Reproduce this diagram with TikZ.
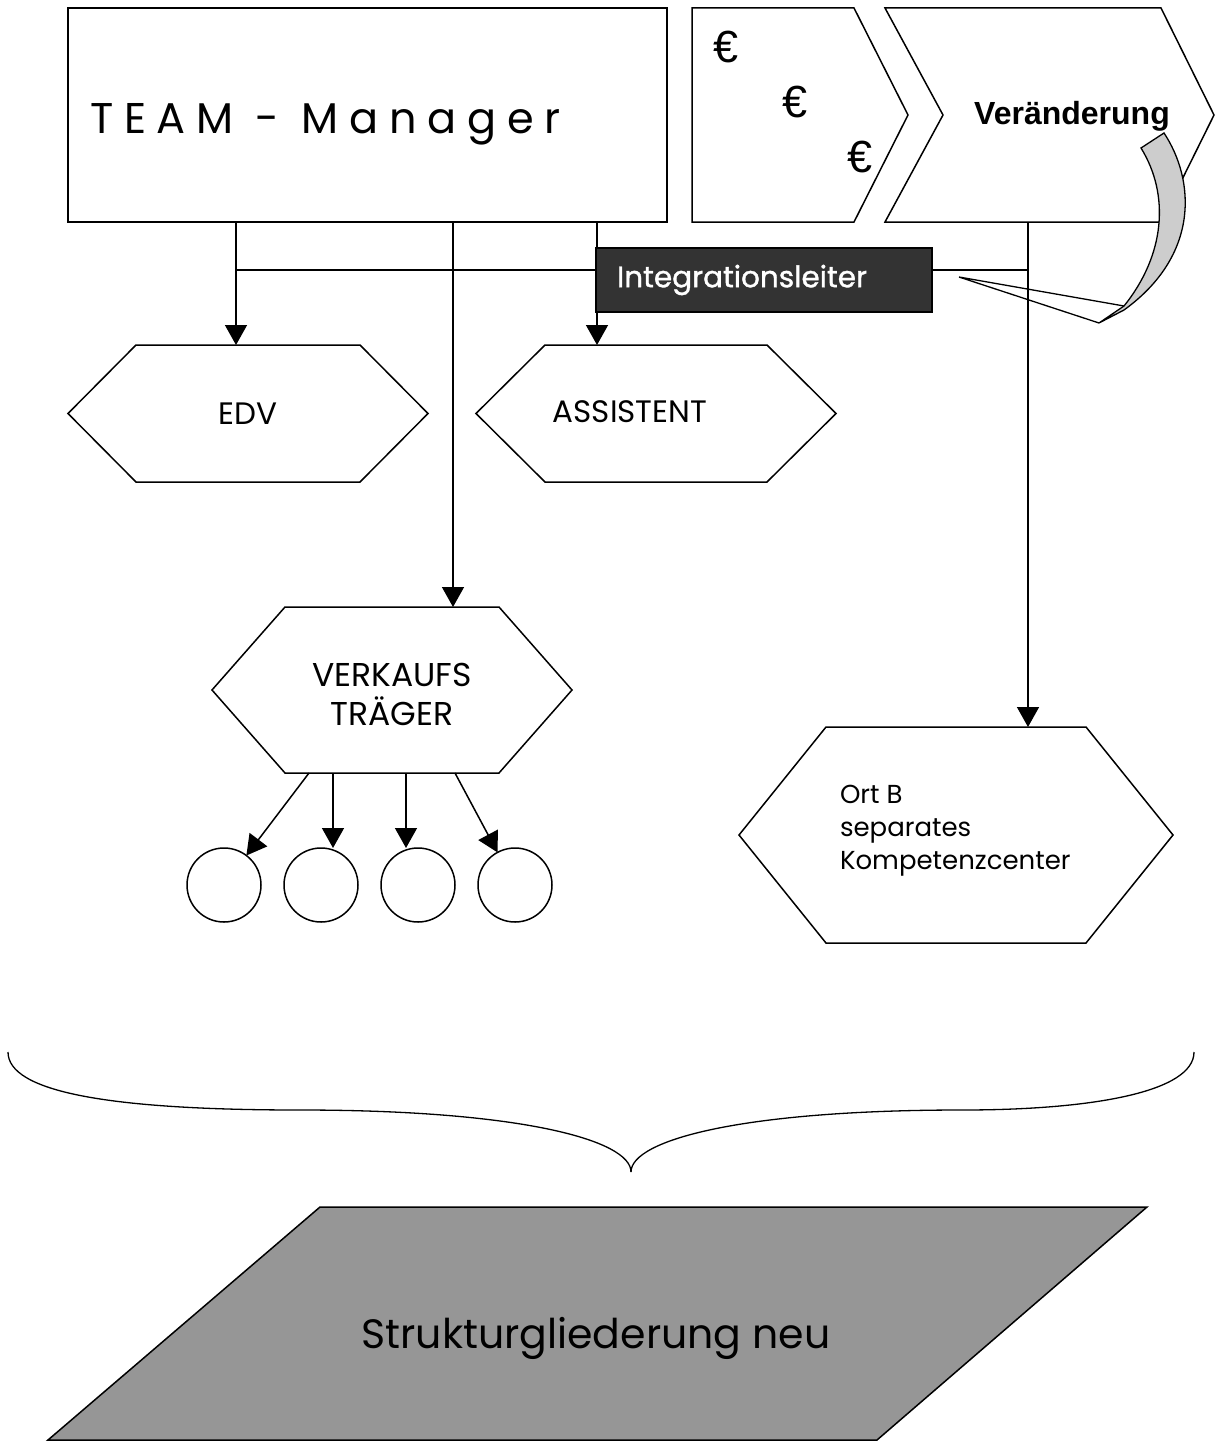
\documentclass[tikz,border=0pt]{standalone}
\usepackage{fontspec}
\setmainfont{Poppins}
\newfontfamily\arialfont{Liberation Sans}
\newfontfamily\semiboldfont[FakeBold=1.2]{Poppins}
\usetikzlibrary{arrows.meta,calc}
\definecolor{darkbox}{RGB}{51,51,51}
\definecolor{ribbongray}{RGB}{205,205,205}
\definecolor{paragray}{RGB}{150,150,150}
\newcommand\fs[2]{\fontsize{#1}{#2}\selectfont}
\newcommand\hexshape[2]{\draw[frame] (#1.west) -- ([xshift=#2]#1.north west) -- ([xshift=-#2]#1.north east) -- (#1.east) -- ([xshift=-#2]#1.south east) -- ([xshift=#2]#1.south west) -- cycle;}
\begin{document}
\begin{tikzpicture}[x=1pt,y=-1pt,
  every node/.style={inner sep=0pt,outer sep=0pt},
  frame/.style={draw=black,line width=1.5pt,line join=miter},
  conn/.style={draw=black,line width=1.5pt},
  arr/.style={conn,-{Triangle[length=20pt,width=22pt]}},
  hexlabel/.style={font=\fs{31}{37}},
]
\useasboundingbox (0,0) rectangle (1215,1445);

% ---------- top: TEAM Manager box
\node[frame,minimum width=599pt,minimum height=214pt] (tm) at (367.5,115) {};
\node[anchor=base west,font=\fs{43}{50}\addfontfeature{LetterSpace=25}] (tmt) at (90,133) {TEAM - Manager};

% ---------- chevrons
\draw[frame] (692,8) -- (854,8) -- (908,115) -- (854,222) -- (692,222) -- cycle;
\node[font=\arialfont\fs{45}{50}] (eu1) at (726,47) {€};
\node[font=\arialfont\fs{45}{50}] (eu2) at (795,102) {€};
\node[font=\arialfont\fs{45}{50}] (eu3) at (860,157) {€};

\draw[frame] (885,8) -- (1161,8) -- (1214,115) -- (1161,222) -- (885,222) -- (943,115) -- cycle;
\node[font=\arialfont\bfseries\fs{32}{38}] (ver) at (1072,116) {Veränderung};

% ---------- hexagons
\node[minimum width=360pt,minimum height=137pt,hexlabel] (edv) at (248,413.5) {EDV};
\hexshape{edv}{68pt}
\node[minimum width=360pt,minimum height=137pt] (as) at (656,413.5) {};
\hexshape{as}{69pt}
\node[hexlabel] (ast) at (630,412) {ASSISTENT};

\node[minimum width=360pt,minimum height=166pt] (vk) at (392,690) {};
\hexshape{vk}{73pt}
\node[anchor=north,align=center,font=\fs{33}{39}] (vkt) at (392,663) {VERKAUFS\\TRÄGER};

\node[minimum width=434pt,minimum height=216pt] (ort) at (956,835) {};
\hexshape{ort}{87pt}
\node[anchor=north west,align=left,font=\fs{26}{33}] (ortt) at (840,785) {Ort B\\separates\\Kompetenzcenter};

% ---------- circles
\foreach \i/\cx in {1/224,2/321,3/418,4/515}
  \node[draw,circle,line width=1.5pt,minimum size=74pt] (c\i) at (\cx,885) {};

% ---------- connectors
\coordinate (t1) at ([xshift=168pt]tm.south west);
\coordinate (t2) at ([xshift=385pt]tm.south west);
\coordinate (t3) at ([xshift=529pt]tm.south west);
\coordinate (vb) at (1028,222);
\coordinate (hy) at (236,270);
\draw[conn] (hy) -- (hy -| vb);
\draw[arr] (t1) -- (t1 |- edv.north);
\draw[arr] (t2) -- (t2 |- vk.north);
\draw[arr] (t3) -- (t3 |- as.north);
\draw[arr] (vb) -- (vb |- ort.north);

\coordinate (s1) at ([xshift=97pt]vk.south west);
\coordinate (s2) at ([xshift=121pt]vk.south west);
\coordinate (s3) at ([xshift=194pt]vk.south west);
\coordinate (s4) at ([xshift=243pt]vk.south west);
\draw[arr] (s1) -- (c1);
\draw[arr] (s2) -- (s2 |- c2.north);
\draw[arr] (s3) -- (s3 |- c3.north);
\draw[arr] (s4) -- (c4);

% ---------- Integrationsleiter
\node[frame,fill=darkbox,minimum width=336pt,minimum height=64pt] (il) at (764,280) {};
\node[anchor=west,text=white,font=\semiboldfont\fs{29.5}{36}] (ilt) at (617,280) {Integrationsleiter};

% ---------- callout
\draw[line width=1.3pt,line join=miter] (1124,306) -- (959,277) -- (1099,323);
\draw[line width=1.3pt,fill=ribbongray]
  (1124,306) .. controls (1165,255) and (1170,195) .. (1141,148)
  -- (1164,133) .. controls (1195,180) and (1200,255) .. (1124,310)
  -- (1099,323) -- cycle;

% ---------- brace
\draw[line width=1.3pt] (8,1052) .. controls (8,1092) and (110,1110) .. (300,1110)
  .. controls (520,1110) and (631,1140) .. (631,1172);
\draw[line width=1.3pt] (1194,1052) .. controls (1194,1092) and (1092,1110) .. (962,1110)
  .. controls (742,1110) and (631,1140) .. (631,1172);

% ---------- parallelogram
\draw[frame,fill=paragray] (320,1207) -- (1147,1207) -- (877,1440) -- (48,1440) -- cycle;
\node[anchor=base,font=\fs{41}{49}] (sg) at (596,1348) {Strukturgliederung neu};
\end{tikzpicture}
\end{document}
